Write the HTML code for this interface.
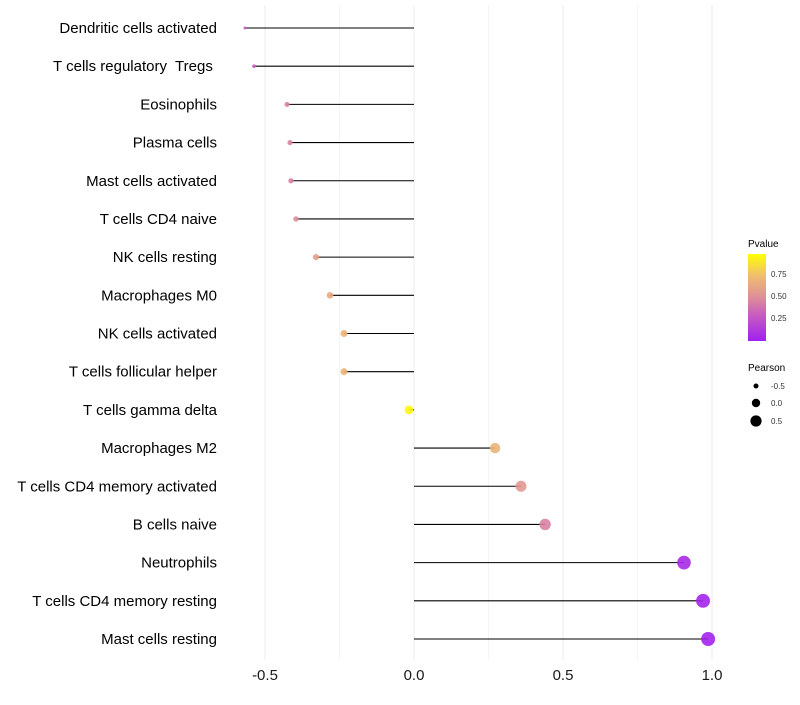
<!DOCTYPE html>
<html><head><meta charset="utf-8"><style>
body{margin:0;background:#fff;font-family:"Liberation Sans",sans-serif}
</style></head><body>
<svg id="chart" width="800" height="700" xmlns="http://www.w3.org/2000/svg">
<g id="grid"></g>
<g id="marks"></g>
<g id="ylabels"></g>
<g id="xlabels"></g>
<g id="legend">
<defs><linearGradient id="pg" x1="0" y1="1" x2="0" y2="0">
<stop offset="0" stop-color="#A020F0"/><stop offset="0.3" stop-color="#C85CC0"/><stop offset="0.5" stop-color="#DE8E98"/><stop offset="0.75" stop-color="#F0BD70"/><stop offset="1" stop-color="#FFFF00"/></linearGradient></defs>
<text x="748" y="247" font-size="10" fill="#000">Pvalue</text>
<rect x="748" y="254" width="18" height="87" fill="url(#pg)"/>
<text x="771" y="277" font-size="8" fill="#333">0.75</text>
<text x="771" y="299" font-size="8" fill="#333">0.50</text>
<text x="771" y="321" font-size="8" fill="#333">0.25</text>
<text x="748" y="371" font-size="10" fill="#000">Pearson</text>
<circle cx="756" cy="386" r="2.5" fill="#000"/>
<circle cx="756" cy="403" r="4.2" fill="#000"/>
<circle cx="756" cy="421" r="5.6" fill="#000"/>
<text x="771" y="389" font-size="8" fill="#333">-0.5</text>
<text x="771" y="406" font-size="8" fill="#333">0.0</text>
<text x="771" y="424" font-size="8" fill="#333">0.5</text>
</g>
</svg>
<script>
const categories=["Dendritic cells activated","T cells regulatory  Tregs ","Eosinophils","Plasma cells","Mast cells activated","T cells CD4 naive","NK cells resting","Macrophages M0","NK cells activated","T cells follicular helper","T cells gamma delta","Macrophages M2","T cells CD4 memory activated","B cells naive","Neutrophils","T cells CD4 memory resting","Mast cells resting"];
const pearson=[-0.567,-0.537,-0.426,-0.416,-0.413,-0.396,-0.329,-0.282,-0.235,-0.235,-0.017,0.272,0.359,0.44,0.906,0.97,0.987];
const pvalues=[0.3,0.3,0.45,0.45,0.45,0.5,0.6,0.65,0.7,0.7,0.98,0.7,0.55,0.45,0.05,0.03,0.02];
const xTicks=[-0.5,0,0.5,1.0];
const xTickLabels=["-0.5","0.0","0.5","1.0"];
const xMinor=[-0.25,0.25,0.75];
const NS="http://www.w3.org/2000/svg";
function xS(v){return 414+v*298;}
function yS(i){return 28+i*(611/16);}
function rS(v){const f=Math.max(0,(v+0.57)/1.56);return Math.sqrt(2.25+f*(49-2.25));}
const stops=[[0,[160,32,240]],[0.3,[200,92,192]],[0.5,[222,142,152]],[0.75,[240,189,112]],[1,[255,255,0]]];
function col(p){for(let k=1;k<stops.length;k++){if(p<=stops[k][0]){const a=stops[k-1],b=stops[k];const t=(p-a[0])/(b[0]-a[0]);const c=a[1].map((x,j)=>Math.round(x+(b[1][j]-x)*t));return`rgb(${c})`;}}return"rgb(255,255,0)";}
function mk(tag,attrs,parent){const e=document.createElementNS(NS,tag);for(const k in attrs)e.setAttribute(k,attrs[k]);parent.appendChild(e);return e;}
const grid=document.getElementById('grid'),marks=document.getElementById('marks'),yl=document.getElementById('ylabels'),xl=document.getElementById('xlabels');
xMinor.forEach(v=>{const l=mk('line',{x1:xS(v),x2:xS(v),y1:5,y2:660,stroke:'#f5f5f5','stroke-width':1},grid);

});
xTicks.forEach((v,i)=>{const l=mk('line',{x1:xS(v),x2:xS(v),y1:5,y2:660,stroke:'#ebebeb','stroke-width':1},grid);


const t=mk('text',{x:xS(v),y:680,'font-size':15,'text-anchor':'middle',fill:'#1a1a1a'},xl);t.textContent=xTickLabels[i];

});
categories.forEach((c,i)=>{const y=yS(i),v=pearson[i];
const s=mk('line',{x1:xS(0),x2:xS(v),y1:y,y2:y,stroke:'#000','stroke-width':1.1},marks);


const d=mk('circle',{cx:xS(v),cy:y,r:rS(v),fill:col(pvalues[i]),'fill-opacity':0.9},marks);


const t=mk('text',{x:217,y:y+5,'font-size':15,'text-anchor':'end',fill:'#000','xml:space':'preserve'},yl);t.textContent=c;
t.setAttribute('style','white-space:pre');

});
</script>
</body></html>
